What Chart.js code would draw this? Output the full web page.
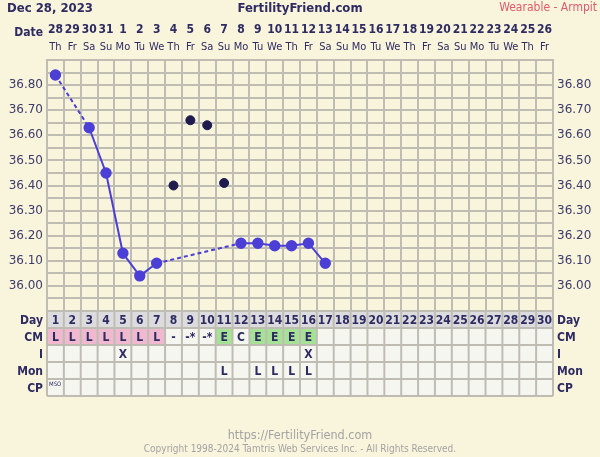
<!DOCTYPE html>
<html>
<head>
<meta charset="utf-8">
<script src="https://cdn.jsdelivr.net/npm/chart.js@4.4.1/dist/chart.umd.min.js"></script>
<style>
  html, body { margin: 0; padding: 0; background: #f9f4dc; }
  #wrap { width: 600px; height: 457px; }
</style>
</head>
<body>
<div id="wrap"><canvas id="chart" width="600" height="457"></canvas></div>
<script>
// chart data
const cycleDays = ['1','2','3','4','5','6','7','8','9','10','11','12','13','14','15','16','17','18','19','20','21','22','23','24','25','26','27','28','29','30'];
const dateNums = ['28','29','30','31','1','2','3','4','5','6','7','8','9','10','11','12','13','14','15','16','17','18','19','20','21','22','23','24','25','26'];
const weekDays = ['Th','Fr','Sa','Su','Mo','Tu','We','Th','Fr','Sa','Su','Mo','Tu','We','Th','Fr','Sa','Su','Mo','Tu','We','Th','Fr','Sa','Su','Mo','Tu','We','Th','Fr'];
const temps = [36.84, null, 36.63, 36.45, 36.13, 36.04, 36.09, null, null, null, null, 36.17, 36.17, 36.16, 36.16, 36.17, 36.09];
const discardedTemps = [null, null, null, null, null, null, null, 36.40, 36.66, 36.64, 36.41];
const cmCodes = ['L','L','L','L','L','L','L','-','-*','-*','E','C','E','E','E','E'];
const intercourse = ['','','','','X','','','','','','','','','','','X'];
const monitor = ['','','','','','','','','','','L','','L','L','L','L'];
const cpCodes = ['MSO'];
const rowLabels = ['Day', 'CM', 'I', 'Mon', 'CP'];

const NAVY = '#2e2b62';
const GRID = '#bfbdb3';
const CELL = '#f6f6f0';
const COND = '"DejaVu Sans Condensed", "DejaVu Sans", sans-serif';
const cmColors = { L: '#f0b9cf', E: '#a6e296' };

const tableTop = 311;
const rowH = 17;

const tempLabel = (v) => {
    const k = Math.round(v * 100);
    return (k % 10 === 0 && k >= 3600 && k <= 3680) ? (k / 100).toFixed(2) : '';
};

const framePlugin = {
    id: 'frame',
    afterDraw(chart) {
        const c = chart.ctx;
        const area = chart.chartArea;
        const colW = (area.right - area.left) / cycleDays.length;
        c.save();

        // header
        c.textBaseline = 'middle';
        c.fillStyle = NAVY;
        c.font = 'bold 13px ' + COND;
        c.textAlign = 'left';
        c.fillText('Dec 28, 2023', 7, 9);
        c.textAlign = 'center';
        c.fillText('FertilityFriend.com', 300, 9);
        c.font = '12px ' + COND;
        c.fillStyle = '#e05a6a';
        c.textAlign = 'right';
        c.fillText('Wearable - Armpit', 597, 8);

        // date row
        c.fillStyle = NAVY;
        c.font = 'bold 12px ' + COND;
        c.fillText('Date', 43, 33);
        c.textAlign = 'center';
        for (let i = 0; i < cycleDays.length; i++) {
            const cx = area.left + (i + 0.5) * colW;
            c.font = 'bold 12px ' + COND;
            c.fillText(dateNums[i], cx, 30);
            c.font = '11px ' + COND;
            c.fillText(weekDays[i], cx, 47);
        }

        // table below the chart
        const rows = [cycleDays, cmCodes, intercourse, monitor, cpCodes];
        for (let r = 0; r < rows.length; r++) {
            const y0 = tableTop + r * rowH;
            for (let i = 0; i < cycleDays.length; i++) {
                const x0 = area.left + i * colW;
                let bg = CELL;
                if (r === 0) bg = '#dcdcdf';
                if (r === 1 && cmColors[cmCodes[i]]) bg = cmColors[cmCodes[i]];
                c.fillStyle = bg;
                c.fillRect(x0, y0, colW, rowH);
                const txt = rows[r][i] || '';
                if (!txt) continue;
                c.fillStyle = NAVY;
                if (r === 4) {
                    c.font = '6px ' + COND;
                    c.textAlign = 'left';
                    c.fillText(txt, x0 + 2, y0 + 5);
                } else {
                    c.font = 'bold 12px ' + COND;
                    c.textAlign = 'center';
                    c.fillText(txt, x0 + colW / 2, y0 + rowH / 2 + 1);
                }
            }
            c.font = 'bold 12px ' + COND;
            c.fillStyle = NAVY;
            c.textAlign = 'right';
            c.fillText(rowLabels[r], 43, y0 + rowH / 2 + 1);
            c.textAlign = 'left';
            c.fillText(rowLabels[r], 557, y0 + rowH / 2 + 1);
        }
        c.strokeStyle = GRID;
        c.lineWidth = 2;
        c.beginPath();
        for (let r = 0; r <= rows.length; r++) {
            c.moveTo(area.left, tableTop + r * rowH);
            c.lineTo(area.right, tableTop + r * rowH);
        }
        for (let i = 0; i <= cycleDays.length; i++) {
            const x = area.left + i * colW;
            c.moveTo(x, tableTop);
            c.lineTo(x, tableTop + rows.length * rowH);
        }
        c.stroke();

        // footer
        c.fillStyle = '#a3a3a3';
        c.textAlign = 'center';
        c.font = '12.5px ' + COND;
        c.fillText('https://FertilityFriend.com', 300, 436);
        c.font = '10px ' + COND;
        c.fillText('Copyright 1998-2024 Tamtris Web Services Inc. - All Rights Reserved.', 300, 449);
        c.restore();
    }
};

const tickFont = { family: 'DejaVu Sans', size: 12, lineHeight: 1 };

const chart = new Chart(document.getElementById('chart'), {
    type: 'line',
    data: {
        labels: cycleDays,
        datasets: [
            {
                label: 'Temperature',
                data: temps,
                borderColor: '#4b3fd6',
                backgroundColor: '#4b3fd6',
                borderWidth: 2,
                pointRadius: 4.7,
                pointHoverRadius: 4.7,
                spanGaps: true,
                tension: 0,
                segment: {
                    borderDash: ctx => (ctx.p0.skip || ctx.p1.skip ? [4, 3] : undefined)
                }
            },
            {
                label: 'Discarded',
                data: discardedTemps,
                showLine: false,
                borderColor: '#1f1b4f',
                backgroundColor: '#1f1b4f',
                pointRadius: 4.5,
                pointHoverRadius: 4.5
            }
        ]
    },
    options: {
        responsive: false,
        animation: false,
        events: [],
        layout: { padding: { top: 60, bottom: 146, left: 0, right: 0 } },
        plugins: { legend: { display: false }, tooltip: { enabled: false } },
        scales: {
            x: {
                offset: true,
                grid: { offset: true, color: GRID, lineWidth: 2, drawTicks: false },
                border: { display: true, color: GRID, width: 2 },
                ticks: { display: false },
                afterFit: s => { s.height = 0; }
            },
            y: {
                position: 'left',
                min: 35.9,
                max: 36.9,
                ticks: { count: 21, precision: 2, callback: tempLabel, color: '#3d3b6c', font: tickFont, padding: 4, autoSkip: false },
                grid: { color: GRID, lineWidth: 2, drawTicks: false },
                border: { display: true, color: GRID, width: 2 },
                afterFit: s => { s.width = 47; }
            },
            y2: {
                position: 'right',
                min: 35.9,
                max: 36.9,
                ticks: { count: 21, precision: 2, callback: tempLabel, color: '#3d3b6c', font: tickFont, padding: 4, autoSkip: false },
                grid: { display: false, drawTicks: false },
                border: { display: true, color: GRID, width: 2 },
                afterFit: s => { s.width = 47; }
            }
        }
    },
    plugins: [framePlugin]
});
</script>
</body>
</html>
